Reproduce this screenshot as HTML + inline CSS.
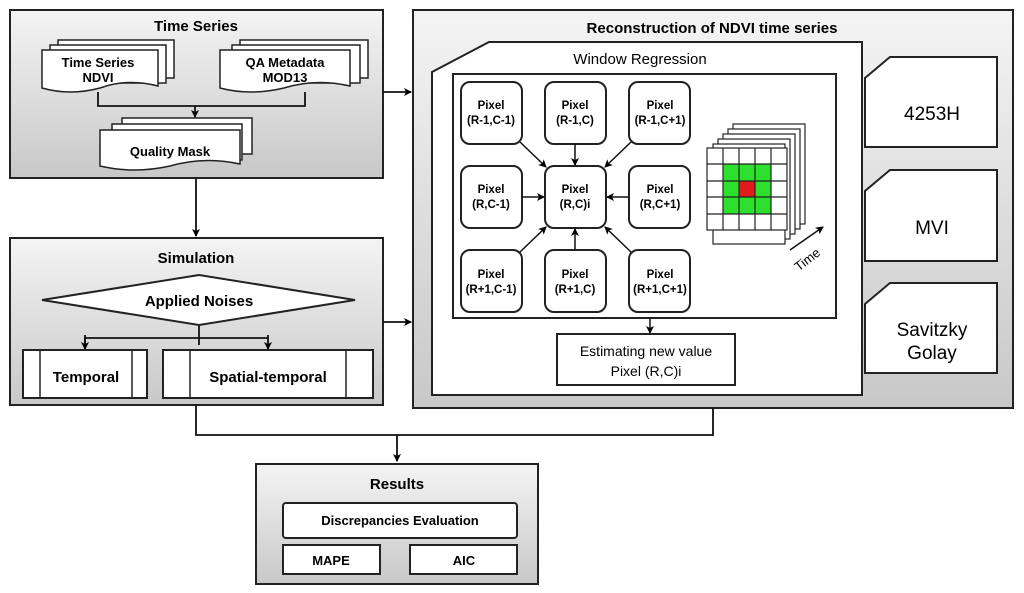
<!DOCTYPE html>
<html><head><style>body{margin:0;background:#fff}svg{display:block}text{font-family:"Liberation Sans",Arial,sans-serif}</style></head><body>
<svg width="1024" height="593" viewBox="0 0 1024 593" xmlns="http://www.w3.org/2000/svg">
<defs>
<linearGradient id="g" x1="0" y1="0" x2="0" y2="1"><stop offset="0" stop-color="#f4f4f4"/><stop offset="1" stop-color="#c8c8c8"/></linearGradient>
<marker id="a" markerWidth="8" markerHeight="8" refX="7" refY="4" orient="auto" markerUnits="userSpaceOnUse"><path d="M0,0 L8,4 L0,8 L2,4z" fill="#000"/></marker>
</defs>
<g stroke="#222" stroke-width="2" fill="url(#g)">
<rect x="10" y="10" width="373" height="168"/>
<rect x="10" y="238" width="373" height="167"/>
<rect x="413" y="10" width="600" height="398"/>
<rect x="256" y="464" width="282" height="120"/>
</g>
<g font-weight="bold" font-size="15" text-anchor="middle">
<text x="196" y="31">Time Series</text>
<text x="196" y="263">Simulation</text>
<text x="712" y="33">Reconstruction of NDVI time series</text>
<text x="397" y="489">Results</text>
</g>
<!-- documents -->
<g stroke="#222" stroke-width="1.5" fill="#fff">
<path d="M58,40 h116 v38 h-116z"/><path d="M50,45 h116 v38 h-116z"/>
<path d="M42,50 h116 v36 q-30,-8 -58,2 q-30,8 -58,0z"/>
<path d="M240,40 h128 v38 h-128z"/><path d="M232,45 h128 v38 h-128z"/>
<path d="M220,50 h130 v36 q-34,-8 -66,2 q-34,8 -64,0z"/>
<path d="M122,118 h130 v36 h-130z"/><path d="M112,124 h130 v36 h-130z"/>
<path d="M100,130 h140 v34 q-36,-8 -70,2 q-36,8 -70,0z"/>
</g>
<g font-weight="bold" font-size="13" text-anchor="middle">
<text x="98" y="67">Time Series</text><text x="98" y="82">NDVI</text>
<text x="285" y="67">QA Metadata</text><text x="285" y="82">MOD13</text>
<text x="170" y="156">Quality Mask</text>
</g>
<g stroke="#111" stroke-width="1.8" fill="none">
<path d="M98,92 V106 H305 V92"/><path d="M195,106 V117" marker-end="url(#a)"/>
<path d="M196,178 V236" marker-end="url(#a)"/>
<path d="M383,92 H411" marker-end="url(#a)"/>
<path d="M383,322 H411" marker-end="url(#a)"/>
<path d="M199,300 V345" /><path d="M85,345 V338 H268" /><path d="M85,335 V349" marker-end="url(#a)"/><path d="M268,335 V349" marker-end="url(#a)"/>
<path d="M196,405 V435 H713 V408"/><path d="M397,435 V461" marker-end="url(#a)"/>
</g>
<!-- diamond -->
<polygon points="42,300 199,275 355,300 199,325" fill="#fff" stroke="#222" stroke-width="2"/>
<text x="199" y="306" font-weight="bold" font-size="15" text-anchor="middle">Applied Noises</text>
<g stroke="#222" stroke-width="2" fill="#fff">
<rect x="23" y="350" width="124" height="48"/><rect x="163" y="350" width="210" height="48"/>
</g>
<g stroke="#222" stroke-width="1.5"><line x1="40" y1="350" x2="40" y2="398"/><line x1="132" y1="350" x2="132" y2="398"/><line x1="190" y1="350" x2="190" y2="398"/><line x1="346" y1="350" x2="346" y2="398"/></g>
<g font-weight="bold" font-size="15" text-anchor="middle"><text x="86" y="382">Temporal</text><text x="268" y="382">Spatial-temporal</text></g>
<!-- results inner -->
<g stroke="#222" stroke-width="2" fill="#fff">
<rect x="283" y="503" width="234" height="35" rx="3"/><rect x="283" y="545" width="97" height="29"/><rect x="410" y="545" width="107" height="29"/>
</g>
<g font-weight="bold" font-size="13" text-anchor="middle"><text x="400" y="525">Discrepancies Evaluation</text><text x="331" y="565">MAPE</text><text x="464" y="565">AIC</text></g>
<!-- window regression -->
<path d="M432,72 L489,42 H862 V395 H432z" fill="#fff" stroke="#222" stroke-width="2"/>
<text x="640" y="64" font-size="15" text-anchor="middle">Window Regression</text>
<rect x="453" y="74" width="383" height="244" fill="#fff" stroke="#222" stroke-width="2"/>
<g stroke="#222" stroke-width="2" fill="#fff">
<rect x="461" y="82" width="61" height="62" rx="9"/><rect x="545" y="82" width="61" height="62" rx="9"/><rect x="629" y="82" width="61" height="62" rx="9"/>
<rect x="461" y="166" width="61" height="62" rx="9"/><rect x="545" y="166" width="61" height="62" rx="9"/><rect x="629" y="166" width="61" height="62" rx="9"/>
<rect x="461" y="250" width="61" height="62" rx="9"/><rect x="545" y="250" width="61" height="62" rx="9"/><rect x="629" y="250" width="61" height="62" rx="9"/>
</g>
<g font-weight="bold" font-size="11.5" text-anchor="middle">
<text x="491" y="109">Pixel</text><text x="491" y="124">(R-1,C-1)</text>
<text x="575" y="109">Pixel</text><text x="575" y="124">(R-1,C)</text>
<text x="660" y="109">Pixel</text><text x="660" y="124">(R-1,C+1)</text>
<text x="491" y="193">Pixel</text><text x="491" y="208">(R,C-1)</text>
<text x="575" y="193">Pixel</text><text x="575" y="208">(R,C)i</text>
<text x="660" y="193">Pixel</text><text x="660" y="208">(R,C+1)</text>
<text x="491" y="278">Pixel</text><text x="491" y="293">(R+1,C-1)</text>
<text x="575" y="278">Pixel</text><text x="575" y="293">(R+1,C)</text>
<text x="660" y="278">Pixel</text><text x="660" y="293">(R+1,C+1)</text>
</g>
<g stroke="#111" stroke-width="1.5" fill="none">
<path d="M520,142 L546,167" marker-end="url(#a)"/><path d="M575,144 V165" marker-end="url(#a)"/><path d="M631,142 L605,167" marker-end="url(#a)"/>
<path d="M522,197 H544" marker-end="url(#a)"/><path d="M629,197 H607" marker-end="url(#a)"/>
<path d="M520,252 L546,227" marker-end="url(#a)"/><path d="M575,250 V229" marker-end="url(#a)"/><path d="M631,252 L605,227" marker-end="url(#a)"/>
<path d="M650,318 V333" marker-end="url(#a)"/>
<path d="M790,250 L823,227" marker-end="url(#a)"/>
</g>
<text x="810" y="263" font-size="13" transform="rotate(-38 810 263)" text-anchor="middle">Time</text>
<!-- grid stack -->
<g stroke="#222" stroke-width="1.2" fill="#fff">
<rect x="733" y="124" width="72" height="100"/><rect x="728" y="129" width="72" height="100"/><rect x="723" y="134" width="72" height="100"/><rect x="718" y="139" width="72" height="100"/><rect x="713" y="144" width="72" height="100"/>
</g>
<g>
<rect x="707" y="148" width="80" height="82" fill="#fff" stroke="#222" stroke-width="1.2"/>
<rect x="723" y="164" width="48" height="50" fill="#2ee02e"/>
<rect x="739" y="181" width="16" height="16" fill="#e01b1b"/>
<g stroke="#222" stroke-width="1.2">
<line x1="723" y1="148" x2="723" y2="230"/><line x1="739" y1="148" x2="739" y2="230"/><line x1="755" y1="148" x2="755" y2="230"/><line x1="771" y1="148" x2="771" y2="230"/>
<line x1="707" y1="164" x2="787" y2="164"/><line x1="707" y1="181" x2="787" y2="181"/><line x1="707" y1="197" x2="787" y2="197"/><line x1="707" y1="214" x2="787" y2="214"/>
</g>
</g>
<rect x="557" y="334" width="178" height="51" fill="#fff" stroke="#222" stroke-width="2"/>
<g font-size="14" text-anchor="middle"><text x="646" y="356">Estimating new value</text><text x="646" y="376">Pixel (R,C)i</text></g>
<!-- right methods -->
<g stroke="#222" stroke-width="2" fill="#fff">
<path d="M865,78 L890,57 H997 V147 H865z"/>
<path d="M865,191 L890,170 H997 V261 H865z"/>
<path d="M865,304 L890,283 H997 V373 H865z"/>
</g>
<g font-size="19" text-anchor="middle"><text x="932" y="120">4253H</text><text x="932" y="234">MVI</text><text x="932" y="336">Savitzky</text><text x="932" y="359">Golay</text></g>
</svg>
</body></html>
